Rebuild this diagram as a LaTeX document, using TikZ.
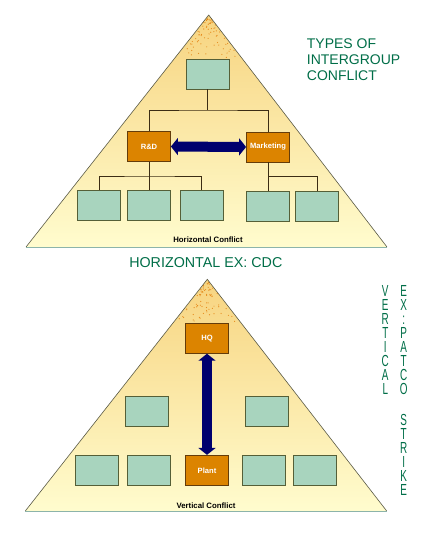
\documentclass[tikz,border=0pt]{standalone}
\usepackage{fontspec}
\setmainfont{Liberation Sans}
\usetikzlibrary{arrows.meta}
\definecolor{pyrtop}{RGB}{247,212,128}
\definecolor{pyrbot}{RGB}{255,252,206}
\definecolor{pyredge}{RGB}{90,90,70}
\definecolor{pyrbase}{RGB}{140,180,170}
\definecolor{tealbox}{RGB}{168,212,190}
\definecolor{tealedge}{RGB}{85,95,55}
\definecolor{orgbox}{RGB}{220,132,0}
\definecolor{orgedge}{RGB}{100,60,10}
\definecolor{navyarrow}{RGB}{0,0,110}
\definecolor{titlegreen}{RGB}{0,110,72}
\definecolor{dotcol}{RGB}{230,140,30}
\definecolor{linkcol}{RGB}{60,45,20}
\tikzset{
  unit/.style={draw=tealedge, fill=tealbox, line width=0.8pt, minimum width=43pt, minimum height=30pt, inner sep=0pt},
  keyunit/.style={draw=orgedge, fill=orgbox, line width=0.8pt, minimum width=43pt, minimum height=30pt, inner sep=0pt, text=white, font=\fontsize{7.6}{9}\selectfont\bfseries},
  link/.style={draw=linkcol, line width=0.8pt},
  conflict/.style={draw=navyarrow, fill=navyarrow, line width=10pt, {Triangle[length=7pt,width=17pt]}-{Triangle[length=7pt,width=17pt]}},
  caption/.style={font=\fontsize{7.8}{9}\selectfont\bfseries, text=black, inner sep=0pt},
  heading/.style={text=titlegreen, inner sep=0pt},
  pyrside/.style={draw=pyredge, line width=0.6pt},
  pyrfoot/.style={draw=pyrbase, line width=0.8pt},
}
\begin{document}
\begin{tikzpicture}[x=1pt,y=-1pt]
\useasboundingbox[fill=white] (0,0) rectangle (442,539);

% ---------- top pyramid ----------
\shade[top color=pyrtop, bottom color=pyrbot] (208.7,15) -- (387,247) -- (26,247) -- cycle;
\pgfmathsetseed{7}
\foreach \i in {1,...,70}{
  \pgfmathsetmacro{\dd}{3+40*rnd}
  \pgfmathsetmacro{\xx}{(2*rnd-1)*0.72*\dd}
  \fill[dotcol] (208.7+\xx,15+\dd) circle (0.6pt);
}
\draw[pyrside] (26,247) -- (208.7,15) -- (387,247);
\draw[pyrfoot] (26,247) -- (387,247);

\node[unit] (T) at (207.5,74) {};
\node[keyunit] (RD) at (149,146.5) {R\&D};
\node[keyunit] (MK) at (268,147) {Marketing};
\node[unit] (B1) at (99.2,205.5) {};
\node[unit] (B2) at (149,205.5) {};
\node[unit] (B3) at (201.7,205.5) {};
\node[unit] (B4) at (268,206) {};
\node[unit] (B5) at (317,206) {};

\coordinate (j1) at (207.5,110);
\coordinate (j2) at (149,176);
\coordinate (j3) at (268,176);
\draw[link] (T.south) -- (j1);
\draw[link] (RD.north) |- (j1) -| (MK.north);
\draw[link] (RD.south) -- (j2);
\draw[link] (B1.north) |- (j2) -| (B3.north);
\draw[link] (j2) -- (B2.north);
\draw[link] (MK.south) -- (B4.north);
\draw[link] (j3) -| (B5.north);

\draw[conflict] (RD.east) -- (MK.west);
\node[caption] (hcap) at (208,240) {Horizontal Conflict};

% ---------- bottom pyramid ----------
\shade[top color=pyrtop, bottom color=pyrbot] (207.3,279.3) -- (386.7,511) -- (25.3,511) -- cycle;
\pgfmathsetseed{11}
\foreach \i in {1,...,70}{
  \pgfmathsetmacro{\dd}{3+40*rnd}
  \pgfmathsetmacro{\xx}{(2*rnd-1)*0.72*\dd}
  \fill[dotcol] (207.3+\xx,279.3+\dd) circle (0.6pt);
}
\draw[pyrside] (25.3,511) -- (207.3,279.3) -- (386.7,511);
\draw[pyrfoot] (25.3,511) -- (386.7,511);

\node[keyunit] (HQ) at (207,338.3) {HQ};
\node[unit] (M1) at (147,411.2) {};
\node[unit] (M2) at (267,411.5) {};
\node[unit] (C1) at (97.2,470.3) {};
\node[unit] (C2) at (149,470.3) {};
\node[keyunit] (PL) at (207,470.3) {Plant};
\node[unit] (C4) at (264.3,470.3) {};
\node[unit] (C5) at (315,470.3) {};

\draw[conflict] (HQ.south) -- (PL.north);
\node[caption] (vcap) at (206,505.3) {Vertical Conflict};

% ---------- headings ----------
\node[heading, anchor=north west, align=left, font=\fontsize{14}{16}\selectfont] (title) at (306.7,38.3) {TYPES OF\\INTERGROUP\\CONFLICT};
\node[heading, anchor=base, font=\fontsize{14.3}{16}\selectfont] (hex) at (205.8,267.3) {HORIZONTAL EX: CDC};
\node[heading, anchor=north, align=center, font=\fontsize{16}{14.1}\selectfont, xscale=0.62, transform shape] (vcol) at (385.3,285) {V\\E\\R\\T\\I\\C\\A\\L};
\node[heading, anchor=north, align=center, font=\fontsize{16}{14.1}\selectfont, xscale=0.62, transform shape] (excol) at (403.7,285) {E\\X\\:\\P\\A\\T\\C\\O\\[16pt]S\\T\\R\\I\\K\\E};
\end{tikzpicture}
\end{document}
